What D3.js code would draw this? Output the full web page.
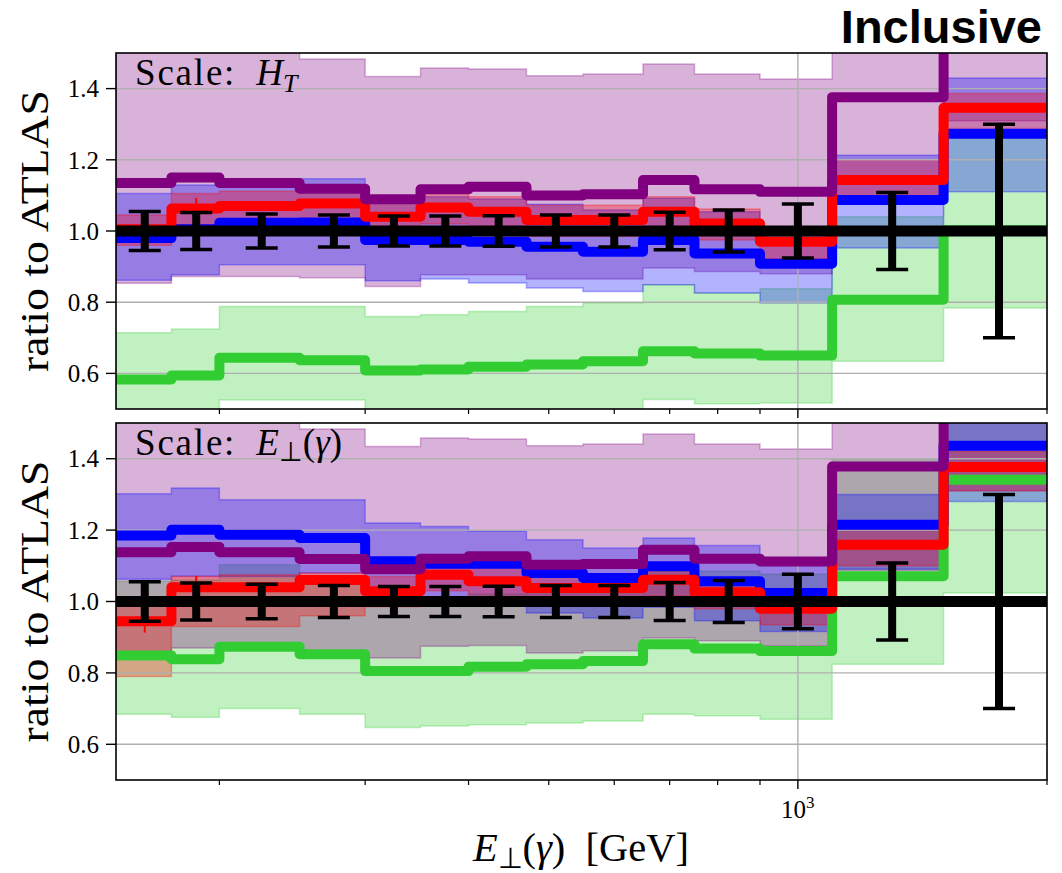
<!DOCTYPE html>
<html><head><meta charset="utf-8">
<script src="https://cdn.jsdelivr.net/npm/d3@7"></script>
<style>body{margin:0;background:#fff} svg{display:block}</style>
</head><body>
<svg id="c" width="1062" height="873"></svg>
<script>
// ---------- data ----------
const binEdges = [150,175,200,250,300,350,400,470,550,650,750,900,1100,1500,2000];
const dataRatio = [1,1,1,1,1,1,1,1,1,1,1,1,1,1];
const dataErr = [0.055,0.052,0.048,0.045,0.042,0.042,0.043,0.045,0.045,0.053,0.059,0.076,0.108,0.30];
const yTicks = [0.6,0.8,1.0,1.2,1.4];
const yTickLabels = ["0.6","0.8","1.0","1.2","1.4"];
const xMinorTicks = [200,300,400,500,600,700,800,900,2000];
const xMajorTicks = [1000];

// top panel: Scale H_T
const htGreen   = [0.583,0.594,0.644,0.637,0.608,0.611,0.619,0.625,0.634,0.662,0.656,0.650,0.807,1.002];
const htGreenLo = [0.47,0.47,0.525,0.525,0.49,0.49,0.49,0.49,0.49,0.527,0.515,0.517,0.634,0.784];
const htGreenHi = [0.714,0.725,0.788,0.788,0.760,0.765,0.774,0.788,0.798,0.849,0.826,0.838,1.04,1.27];
const htPurple   = [1.135,1.150,1.135,1.119,1.089,1.117,1.124,1.100,1.103,1.143,1.117,1.110,1.376,1.62];
const htPurpleLo = [0.853,0.872,0.872,0.869,0.844,0.877,0.877,0.865,0.865,0.896,0.886,0.880,1.087,1.31];
const htPurpleHi = [1.51,1.53,1.51,1.483,1.434,1.458,1.455,1.436,1.441,1.469,1.441,1.427,1.79,2.0];
const htBlue   = [0.980,1.005,1.023,1.024,0.975,0.975,0.970,0.956,0.942,0.975,0.937,0.908,1.087,1.273];
const htBlueLo = [0.862,0.877,0.905,0.905,0.860,0.865,0.854,0.840,0.830,0.849,0.826,0.798,0.952,1.11];
const htBlueHi = [1.105,1.129,1.145,1.147,1.090,1.096,1.090,1.075,1.059,1.092,1.054,1.012,1.213,1.43];
const htRed   = [1.005,1.063,1.070,1.077,1.040,1.066,1.054,1.031,1.031,1.054,1.021,0.970,1.143,1.346];
const htRedLo = [0.96,1.017,1.022,1.03,0.995,1.02,1.007,0.985,0.985,1.007,0.975,0.922,1.096,1.288];
const htRedHi = [1.045,1.105,1.112,1.12,1.082,1.108,1.096,1.072,1.072,1.096,1.062,1.008,1.199,1.386];
const htRedErr = [0.01,0.03,0.01,0.01,0.01,0.01,0.01,0.01,0.01,0.01,0.01,0.01,0.01,0.01];

// bottom panel: Scale E_perp(gamma)
const etGreen   = [0.849,0.838,0.873,0.852,0.805,0.805,0.817,0.824,0.833,0.880,0.868,0.861,1.071,1.341];
const etGreenLo = [0.684,0.676,0.700,0.684,0.647,0.651,0.655,0.660,0.665,0.684,0.680,0.670,0.824,1.024];
const etGreenHi = [1.057,1.06,1.103,1.065,1.006,1.006,1.021,1.03,1.041,1.10,1.085,1.076,1.40,1.68];
const etPurple   = [1.138,1.153,1.138,1.119,1.090,1.120,1.127,1.103,1.105,1.145,1.120,1.112,1.378,1.62];
const etPurpleLo = [0.84,0.87,0.866,0.847,0.842,0.875,0.877,0.856,0.862,0.898,0.89,0.876,1.087,1.31];
const etPurpleHi = [1.51,1.53,1.51,1.483,1.434,1.458,1.455,1.436,1.441,1.469,1.441,1.427,1.79,2.0];
const etBlue   = [1.185,1.201,1.187,1.178,1.113,1.106,1.106,1.080,1.066,1.099,1.057,1.024,1.215,1.436];
const etBlueLo = [1.062,1.071,1.07,1.08,0.995,0.99,0.99,0.968,0.954,0.984,0.946,0.916,1.09,1.28];
const etBlueHi = [1.302,1.318,1.285,1.285,1.22,1.21,1.197,1.173,1.15,1.178,1.157,1.121,1.30,1.57];
const etRed   = [0.945,1.040,1.040,1.060,1.029,1.075,1.057,1.038,1.038,1.061,1.026,0.980,1.159,1.377];
const etRedLo = [0.79,0.93,0.93,0.96,0.985,1.03,1.01,0.99,0.99,1.015,0.98,0.935,1.10,1.31];
const etRedHi = [1.0,1.07,1.075,1.08,1.07,1.115,1.097,1.078,1.078,1.10,1.066,1.02,1.21,1.42];
const etRedErr = [0.032,0.032,0.01,0.01,0.01,0.01,0.01,0.01,0.01,0.01,0.01,0.01,0.01,0.01];

const cPurple = "#800080", cBlue = "#0000ff", cRed = "#ff0000", cGreen = "#32cd32";

// ---------- drawing ----------
const svg = d3.select("#c");
const x = d3.scaleLog().domain([150,2000]).range([116,1047]);
const serif = "'Liberation Serif','Times New Roman',serif";

const panels = [
  {top:53, bottom:409, scaleLabel:"ht",
   green:[htGreen,htGreenLo,htGreenHi], purple:[htPurple,htPurpleLo,htPurpleHi],
   blue:[htBlue,htBlueLo,htBlueHi], red:[htRed,htRedLo,htRedHi], redErr:htRedErr},
  {top:423, bottom:780, scaleLabel:"et",
   green:[etGreen,etGreenLo,etGreenHi], purple:[etPurple,etPurpleLo,etPurpleHi],
   blue:[etBlue,etBlueLo,etBlueHi], red:[etRed,etRedLo,etRedHi], redErr:etRedErr}
];

const last = binEdges.length - 1;
function stepPts(vals){
  return vals.map((v,i)=>[binEdges[i], v]).concat([[binEdges[last], vals[vals.length-1]]]);
}
function bandPts(lo, hi){
  return lo.map((v,i)=>[binEdges[i], v, hi[i]]).concat([[binEdges[last], lo[lo.length-1], hi[hi.length-1]]]);
}

panels.forEach((p, idx) => {
  const y = d3.scaleLinear().domain([0.5,1.5]).range([p.bottom, p.top]);
  const clipId = "clip" + idx;
  svg.append("clipPath").attr("id", clipId).append("rect")
    .attr("x", x.range()[0]).attr("y", p.top)
    .attr("width", x.range()[1]-x.range()[0]).attr("height", p.bottom-p.top);
  const g = svg.append("g").attr("clip-path", `url(#${clipId})`);

  const area = d3.area().curve(d3.curveStepAfter)
    .x(d=>x(d[0])).y0(d=>y(d[1])).y1(d=>y(d[2]));
  const line = d3.line().curve(d3.curveStepAfter).x(d=>x(d[0])).y(d=>y(d[1]));

  // bands
  [[p.green,cGreen],[p.purple,cPurple],[p.blue,cBlue],[p.red,cRed]].forEach(([s,c])=>{
    g.append("path").attr("d", area(bandPts(s[1], s[2])))
      .attr("fill", c).attr("fill-opacity", 0.3)
      .attr("stroke", c).attr("stroke-opacity", 0.3).attr("stroke-width", 1.5);
  });

  // grid
  g.selectAll(null).data(yTicks).enter().append("line")
    .attr("x1", x.range()[0]).attr("x2", x.range()[1])
    .attr("y1", d=>y(d)).attr("y2", d=>y(d))
    .attr("stroke", "#b0b0b0").attr("stroke-width", 1.4);
  g.selectAll(null).data(xMajorTicks).enter().append("line")
    .attr("x1", d=>x(d)).attr("x2", d=>x(d))
    .attr("y1", p.top).attr("y2", p.bottom)
    .attr("stroke", "#b0b0b0").attr("stroke-width", 1.4);

  // lines
  [[p.green,cGreen],[p.blue,cBlue],[p.red,cRed],[p.purple,cPurple]].forEach(([s,c])=>{
    g.append("path").attr("d", line(stepPts(s[0])))
      .attr("fill","none").attr("stroke", c).attr("stroke-width", 10)
      .attr("stroke-linejoin","round");
  });
  // red stat error bars
  g.selectAll(null).data(p.red[0]).enter().append("line")
    .attr("x1",(d,i)=>x((binEdges[i]+binEdges[i+1])/2))
    .attr("x2",(d,i)=>x((binEdges[i]+binEdges[i+1])/2))
    .attr("y1",(d,i)=>y(d - p.redErr[i])).attr("y2",(d,i)=>y(d + p.redErr[i]))
    .attr("stroke", cRed).attr("stroke-width", 2);

  // data line + error bars
  g.append("path").attr("d", line(stepPts(dataRatio)))
    .attr("fill","none").attr("stroke","#000").attr("stroke-width", 11);
  const eb = g.selectAll(null).data(dataRatio).enter().append("g");
  const cx = (d,i)=>x((binEdges[i]+binEdges[i+1])/2);
  eb.append("line").attr("x1",cx).attr("x2",cx)
    .attr("y1",(d,i)=>y(d-dataErr[i])).attr("y2",(d,i)=>y(d+dataErr[i]))
    .attr("stroke","#000").attr("stroke-width",8);
  [-1,1].forEach(sgn=>{
    eb.append("line").attr("x1",(d,i)=>cx(d,i)-16).attr("x2",(d,i)=>cx(d,i)+16)
      .attr("y1",(d,i)=>y(d+sgn*dataErr[i])).attr("y2",(d,i)=>y(d+sgn*dataErr[i]))
      .attr("stroke","#000").attr("stroke-width",3.5);
  });

  // frame
  svg.append("rect").attr("x", x.range()[0]).attr("y", p.top)
    .attr("width", x.range()[1]-x.range()[0]).attr("height", p.bottom-p.top)
    .attr("fill","none").attr("stroke","#000").attr("stroke-width",1.6);

  // y ticks
  yTicks.forEach((t,i)=>{
    svg.append("line").attr("x1", 106).attr("x2", 116).attr("y1", y(t)).attr("y2", y(t))
      .attr("stroke","#000").attr("stroke-width",1.4);
    svg.append("text").attr("x", 99).attr("y", y(t)).attr("dy","0.35em")
      .attr("text-anchor","end").attr("font-family", serif).attr("font-size", 25)
      .text(yTickLabels[i]);
  });
  // x ticks
  xMinorTicks.forEach(t=>{
    svg.append("line").attr("x1", x(t)).attr("x2", x(t)).attr("y1", p.bottom).attr("y2", p.bottom+5)
      .attr("stroke","#000").attr("stroke-width",1.2);
  });
  xMajorTicks.forEach(t=>{
    svg.append("line").attr("x1", x(t)).attr("x2", x(t)).attr("y1", p.bottom).attr("y2", p.bottom+9)
      .attr("stroke","#000").attr("stroke-width",1.4);
  });

  // y label
  svg.append("text").attr("transform", `translate(48,${(p.top+p.bottom)/2}) rotate(-90)`)
    .attr("text-anchor","middle").attr("font-family", serif).attr("font-size", 39)
    .attr("textLength", 282).attr("lengthAdjust","spacingAndGlyphs")
    .text("ratio to ATLAS");

  // scale label
  const st = svg.append("text").attr("x", 135).attr("y", p.top + 32)
    .attr("font-family", serif).attr("font-size", 37);
  st.append("tspan").attr("letter-spacing", 1.8).text("Scale:");
  if (p.scaleLabel === "ht") {
    st.append("tspan").attr("dx", 20).attr("font-style","italic").text("H");
    st.append("tspan").attr("dy", 7).attr("font-size", 26).attr("font-style","italic").text("T");
  } else {
    st.append("tspan").attr("dx", 20).attr("font-style","italic").text("E");
    st.append("tspan").attr("dy", 6).attr("font-size", 27).text("⊥");
    st.append("tspan").attr("dy", -6).text("(");
    st.append("tspan").attr("font-style","italic").text("γ");
    st.append("tspan").text(")");
  }
});

// x tick label 10^3
const xl = svg.append("text").attr("x", x(1000)).attr("y", 818).attr("text-anchor","middle")
  .attr("font-family", serif).attr("font-size", 25);
xl.append("tspan").text("10");
xl.append("tspan").attr("dy", -10).attr("font-size", 17).text("3");

// x axis label
const xa = svg.append("text").attr("x", 581).attr("y", 861).attr("text-anchor","middle")
  .attr("font-family", serif).attr("font-size", 41)
  .attr("textLength", 216).attr("lengthAdjust","spacingAndGlyphs");
xa.append("tspan").attr("font-style","italic").text("E");
xa.append("tspan").attr("dy", 7).attr("font-size", 29).text("⊥");
xa.append("tspan").attr("dy", -7).text("(");
xa.append("tspan").attr("font-style","italic").text("γ");
xa.append("tspan").text(")\u2002[GeV]");

// title
svg.append("text").attr("x", 1042).attr("y", 43).attr("text-anchor","end")
  .attr("font-family","'Liberation Sans',Arial,sans-serif").attr("font-weight","bold")
  .attr("font-size", 47).text("Inclusive");
</script>
</body></html>
